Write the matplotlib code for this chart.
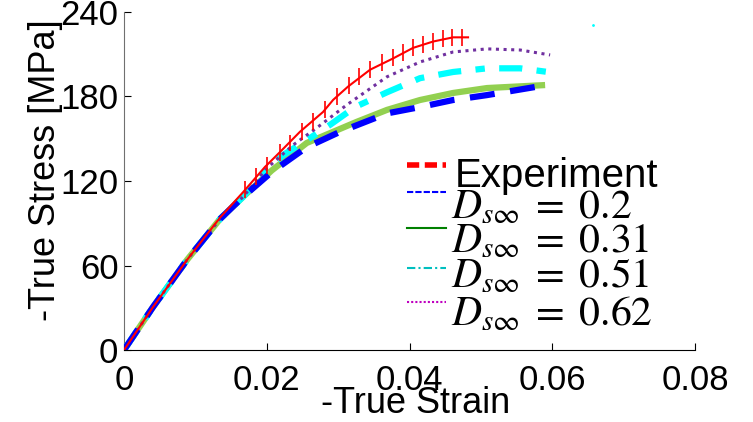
import numpy as np
import matplotlib
matplotlib.use('Agg')
import matplotlib.pyplot as plt

plt.rcParams['font.family'] = ['Liberation Sans', 'DejaVu Sans']
plt.rcParams['mathtext.fontset'] = 'stix'

# datos (deformacion verdadera, tension verdadera en MPa)
exp_strain = [0, 0.00406, 0.00883, 0.01345, 0.01667, 0.01975, 0.02186, 0.02466, 0.02788,
              0.0293, 0.03138, 0.03447, 0.03769, 0.04049, 0.04329, 0.0461, 0.0482]
exp_stress = [0, 30.5, 64, 94, 112, 130, 140.6, 155, 169, 177.6, 187, 199, 207, 214.5, 219, 222, 222]
exp_bar_strain = [0.0170, 0.0185, 0.0200, 0.0218, 0.0232, 0.0249, 0.0265, 0.0282, 0.0299,
                  0.0315, 0.0329, 0.0345, 0.0362, 0.0377, 0.0391, 0.0405, 0.0419, 0.0433,
                  0.0447, 0.0459, 0.0473]
exp_bar_stress = [114, 123, 131, 140, 147, 155, 162, 171, 180, 188, 194, 199, 204, 207.5, 211,
                  214.5, 217, 219, 221, 222, 222]
exp_err = 6

s_common = [0, 0.00406, 0.00883, 0.01345, 0.01667]
t_common = [0, 30.5, 64, 93, 108.7]

d02_strain = s_common + [0.0207, 0.0256, 0.0303, 0.03685, 0.04147, 0.0461, 0.05086, 0.0579]
d02_stress = t_common + [126.4, 144, 155, 168, 172.5, 177.5, 181, 187]

d031_strain = s_common + [0.0207, 0.0256, 0.0326, 0.03685, 0.04147, 0.0461, 0.05086, 0.05856]
d031_stress = t_common + [127.5, 147, 162, 170.5, 177.5, 182.5, 186, 188]

d051_strain = s_common + [0.0200, 0.0223, 0.0256, 0.0289, 0.0324, 0.03685, 0.04147, 0.0461,
                          0.05086, 0.0555, 0.0594]
d051_stress = t_common + [128, 138.5, 149, 160, 172.6, 183, 193, 197.4, 200, 200, 197.4]

d062_strain = s_common + [0.0200, 0.0237, 0.0270, 0.0312, 0.03685, 0.04147, 0.0461, 0.05086,
                          0.0555, 0.0597]
d062_stress = t_common + [129, 145.6, 157.7, 174, 194, 204.5, 211.6, 213.8, 213, 209.5]

stray_x = [0.0657]
stray_y = [231]

etiquetas = ['Experiment', r'$D_{s\infty}\;=\;0.2$', r'$D_{s\infty}\;=\;0.31$',
             r'$D_{s\infty}\;=\;0.51$', r'$D_{s\infty}\;=\;0.62$']
leg_colores = ['#ff0000', '#0000ff', '#008000', '#00bfbf', '#bf00bf']
leg_estilos = [(0, (2.2, 1)), (0, (3, 1)), '-', (0, (4, 1.5, 1, 1.5)), (0, (1, 1))]
leg_anchos = [4, 1.5, 1.5, 1.5, 1.5]

fig = plt.figure(figsize=(7.53, 4.22), dpi=100)
ax = fig.add_axes([0.1647, 0.1706, 0.7583, 0.801])

ax.plot(d02_strain, d02_stress, color='#0000ff', lw=4.5, ls=(0, (4, 2.5)), zorder=5)
ax.plot(d031_strain, d031_stress, color='#92d050', lw=4.5, zorder=3)
ax.plot(d051_strain, d051_stress, color='#00ffff', lw=4.5, ls=(0, (3.7, 2.3, 1.5, 2.3)), zorder=4)
ax.plot(d062_strain, d062_stress, color='#7030a0', lw=2.2, ls=(0, (1, 1.5)), zorder=4)
ax.plot(exp_strain, exp_stress, color='#ff0000', lw=1.5, zorder=6)
ax.errorbar(exp_bar_strain, exp_bar_stress, yerr=exp_err, fmt='none', ecolor='#ff0000',
            elinewidth=1.2, zorder=6)
ax.plot(stray_x, stray_y, '.', color='#00ffff', ms=2)

ax.set_xlim(0, 0.08)
ax.set_ylim(0, 240)
ax.set_xticks([0, 0.02, 0.04, 0.06, 0.08])
ax.set_xticklabels(['0', '0.02', '0.04', '0.06', '0.08'])
ax.set_yticks([0, 60, 120, 180, 240])
ax.tick_params(direction='in', length=5, labelsize=25)
ax.tick_params(axis='x', pad=10)
ax.tick_params(axis='y', pad=4)
ax.spines['top'].set_visible(False)
ax.spines['right'].set_visible(False)
ax.spines['left'].set_color('#707070')
ax.set_xlabel('-True Strain', fontsize=26)
ax.set_ylabel('-True Stress [MPa]', fontsize=26)
ax.xaxis.set_label_coords(0.511, -0.106)
ax.yaxis.set_label_coords(-0.106, 0.533)

# leyenda dibujada a mano para copiar el espaciado del original
y_linea = [0.547, 0.467, 0.361, 0.243, 0.142]
y_texto = [0.482, 0.391, 0.290, 0.186, 0.074]
for i, txt in enumerate(etiquetas):
    ax.plot([0.496, 0.564], [y_linea[i], y_linea[i]], transform=ax.transAxes,
            color=leg_colores[i], lw=leg_anchos[i], ls=leg_estilos[i], clip_on=False)
    if i == 0:
        ax.text(0.580, y_texto[i], txt, transform=ax.transAxes, fontsize=29, va='baseline')
    else:
        ax.text(0.572, y_texto[i], txt, transform=ax.transAxes, fontsize=30, va='baseline')

fig.savefig('out.png', dpi=100)
